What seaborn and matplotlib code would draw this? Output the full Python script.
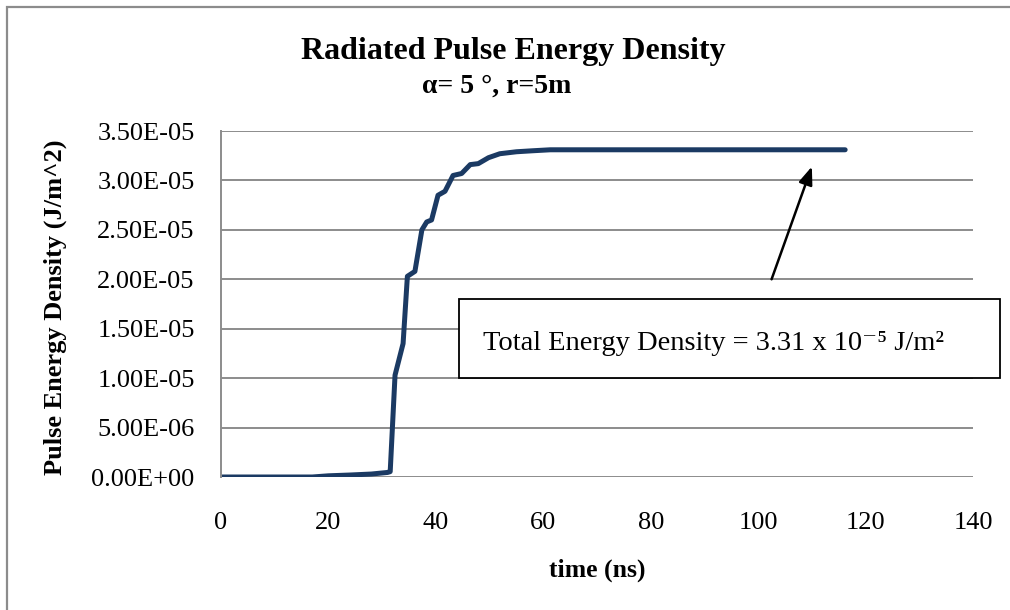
import matplotlib
matplotlib.use("Agg")
import matplotlib.pyplot as plt
import seaborn as sns
import pandas as pd
from matplotlib.patches import Rectangle
from matplotlib.ticker import FuncFormatter, MultipleLocator

# ---- data ----
time_ns = [0, 5, 10, 15, 17, 20, 24, 28, 31.0, 31.5, 32.4, 33.9, 34.7, 36.1, 37.4,
           38.3, 39.2, 40.4, 41.7, 43.2, 44.8, 46.4, 47.9, 49.8, 51.9, 55.0,
           58.0, 61.3, 70, 80, 90, 100, 110, 116.2]
energy = [0, 0, 0, 0, 0.0, 1.2e-7, 2.0e-7, 3.0e-7, 4.6e-7, 5.4e-7, 1.03e-5, 1.35e-5,
          2.03e-5, 2.08e-5, 2.50e-5, 2.58e-5, 2.60e-5, 2.85e-5, 2.89e-5, 3.05e-5,
          3.07e-5, 3.16e-5, 3.17e-5, 3.23e-5, 3.27e-5, 3.29e-5, 3.30e-5, 3.31e-5,
          3.31e-5, 3.31e-5, 3.31e-5, 3.31e-5, 3.31e-5, 3.31e-5]
df = pd.DataFrame({"time (ns)": time_ns, "energy": energy})

title_main = "Radiated Pulse Energy Density"
title_sub = "α= 5 °, r=5m"
x_label = "time (ns)"
y_label = "Pulse Energy Density (J/m^2)"
note = "Total Energy Density = 3.31 x 10⁻⁵ J/m²"

sns.set_theme(style="white")
plt.rcParams["font.family"] = ["Liberation Serif", "DejaVu Serif"]
plt.rcParams["text.color"] = "black"
plt.rcParams["axes.labelcolor"] = "black"
plt.rcParams["xtick.color"] = "black"
plt.rcParams["ytick.color"] = "black"

fig = plt.figure(figsize=(10.1, 6.1), dpi=100)
ax = fig.add_axes([221/1010, 1-477/610, (973-221)/1010, (477-131)/610])

sns.lineplot(data=df, x="time (ns)", y="energy", ax=ax, color="#1B3A63",
             linewidth=3.6, solid_capstyle="round", solid_joinstyle="round")

ax.set_xlim(0, 140)
ax.set_ylim(0, 3.5e-5)
ax.xaxis.set_major_locator(MultipleLocator(20))
ax.yaxis.set_major_locator(MultipleLocator(5e-6))
ax.yaxis.set_major_formatter(FuncFormatter(lambda v, p: f"{v:.2E}"))
ax.grid(axis="y", color="#8c8c8c", linewidth=1.4)
ax.set_axisbelow(True)
for s in ["top", "right", "bottom"]:
    ax.spines[s].set_visible(False)
ax.spines["left"].set_color("#8c8c8c")
ax.spines["left"].set_linewidth(1.4)
ax.tick_params(axis="y", length=0, pad=19, labelsize=19, colors="black")
ax.tick_params(axis="x", length=0, pad=25, labelsize=19, colors="black")

ax.set_xlabel(x_label, fontsize=18.5, fontweight="bold")
ax.set_ylabel(y_label, fontsize=19, fontweight="bold")
ax.xaxis.set_label_coords((597-221)/(973-221), -(570-477)/(477-131))
ax.yaxis.set_label_coords(-(221-55)/(973-221), 0.49)
ax.xaxis.label.set_va("center")
ax.yaxis.label.set_va("center")

fig.text(513/1010, 1-51/610, title_main, ha="center", va="center",
         fontsize=23, fontweight="bold")
fig.text(497/1010, 1-86/610, title_sub, ha="center", va="center",
         fontsize=20, fontweight="bold")

# annotation box + arrow
box = Rectangle((459/1010, 1-378/610), (1000-459)/1010, (378-299)/610,
                transform=fig.transFigure, facecolor="white", edgecolor="black",
                linewidth=1.3, zorder=5)
fig.patches.append(box)
fig.text(483/1010, 1-343/610, note, ha="left", va="center", fontsize=20.5, zorder=6)
ax.annotate("", xy=(110.0, 3.14e-5), xytext=(102.5, 2.0e-5),
            arrowprops=dict(arrowstyle="-|>,head_length=0.9,head_width=0.35",
                            color="black", lw=1.8, shrinkA=0, shrinkB=0))

# outer chart border
border = Rectangle((7/1010, -0.05), 1.1, 1-7/610+0.05, transform=fig.transFigure,
                   facecolor="none", edgecolor="#8c8c8c", linewidth=1.6)
fig.patches.append(border)

fig.savefig("out.png", dpi=100)
